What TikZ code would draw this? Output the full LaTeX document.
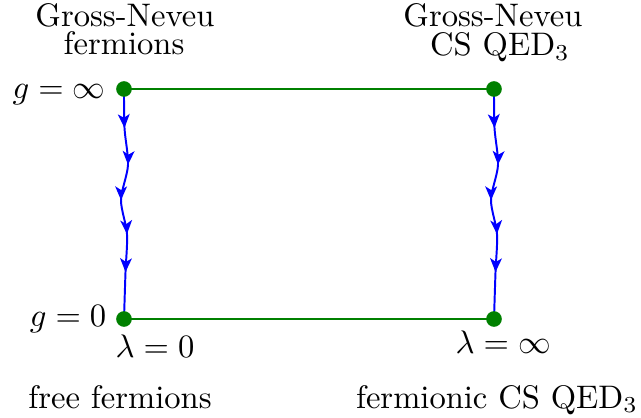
\documentclass[tikz,border=0pt]{standalone}
\usetikzlibrary{arrows.meta,decorations.markings,backgrounds}
\definecolor{dkgreen}{RGB}{0,128,0}
\tikzset{
  dot/.style={circle, fill=dkgreen, inner sep=0pt, minimum size=4.8pt},
  edgeline/.style={draw=dkgreen, line width=0.6pt},
  tipflow/.tip={Stealth[length=4.2pt,width=3.6pt,inset=1.1pt]},
  flow/.style={draw=blue, line width=0.6pt, postaction={decorate},
    decoration={markings,
      mark=at position 0.168 with {\arrow{tipflow}},
      mark=at position 0.328 with {\arrow{tipflow}},
      mark=at position 0.484 with {\arrow{tipflow}},
      mark=at position 0.633 with {\arrow{tipflow}},
      mark=at position 0.797 with {\arrow{tipflow}}}},
  lbl/.style={inner sep=0pt, anchor=base}
}
\begin{document}
\begin{tikzpicture}[x=0.3067pt,y=-0.3067pt]
\useasboundingbox (0,0) rectangle (641,418);
% fixed points
\node[dot] (lt) at (124,89) {};
\node[dot] (rt) at (494,89) {};
\node[dot] (lb) at (124,319) {};
\node[dot] (rb) at (494,319) {};
\begin{pgfonlayer}{background}
\foreach \t/\b in {lt/lb, rt/rb} {
  \path (\t.center) ++(0.5,39) coordinate (\t-1)
        ++(3.5,37) coordinate (\t-2)
        ++(-7,35) coordinate (\t-3)
        ++(6,34) coordinate (\t-4)
        ++(-1.5,38) coordinate (\t-5);
  \draw[flow] plot[smooth, tension=0.5] coordinates
    {(\t.center) (\t-1) (\t-2) (\t-3) (\t-4) (\t-5) (\b.center)};
}
\draw[edgeline] (lt.center) -- (rt.center);
\draw[edgeline] (lb.center) -- (rb.center);
\end{pgfonlayer}
% labels
\node[lbl] (tl1) at (125,27) {Gross-Neveu};
\node[lbl] (tl2) at (124,55) {fermions};
\node[lbl] (tr1) at (493,27) {Gross-Neveu};
\node[lbl] (tr2) at (500,56) {CS QED$_3$};
\node[lbl, anchor=base east] (ginf) at (106,99) {$g=\infty$};
\node[lbl, anchor=base east] (gzero) at (107,327) {$g=0$};
\node[lbl, anchor=base west] (lzero) at (115,357) {$\lambda=0$};
\node[lbl, anchor=base west] (linf) at (455,353) {$\lambda=\infty$};
\node[lbl] (bl) at (120,408) {free fermions};
\node[lbl] (br) at (497,408) {fermionic CS QED$_3$};
\end{tikzpicture}
\end{document}
